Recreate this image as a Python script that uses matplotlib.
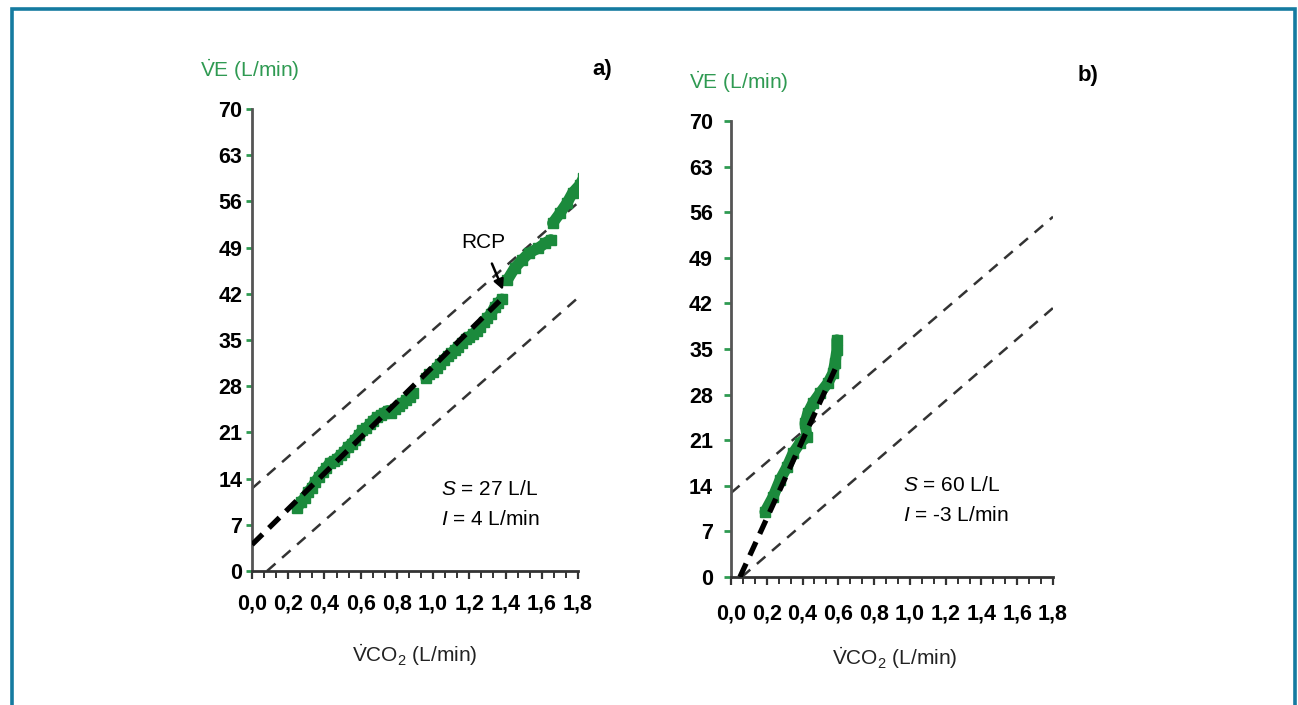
import numpy as np
import matplotlib.pyplot as plt
from matplotlib.patches import Rectangle
from matplotlib.ticker import FixedLocator

plt.rcParams['font.family'] = ['Liberation Sans', 'DejaVu Sans']
plt.rcParams['mathtext.fontset'] = 'custom'
plt.rcParams['mathtext.it'] = 'Liberation Sans:italic'
plt.rcParams['mathtext.rm'] = 'Liberation Sans'

# ---- data ----
# panel a) green measurements, runs of points
a_x1 = [0.25, 0.27, 0.29, 0.31, 0.33, 0.35, 0.37, 0.39, 0.41, 0.43, 0.45, 0.47, 0.49,
        0.51, 0.53, 0.55, 0.57, 0.59, 0.61, 0.63, 0.65, 0.67, 0.69, 0.71, 0.73, 0.75,
        0.77, 0.79, 0.81, 0.83, 0.85, 0.87, 0.89]
a_y1 = [9.5, 10.5, 11.0, 12.0, 12.6, 13.5, 14.3, 15.0, 15.6, 16.4, 16.6, 17.0, 17.6,
        18.0, 18.8, 19.3, 19.9, 20.6, 21.3, 21.6, 22.2, 22.8, 23.3, 23.6, 24.0, 24.3,
        23.9, 24.6, 25.0, 25.4, 25.9, 26.4, 27.0]
a_x2 = [0.96, 0.98, 1.00, 1.02, 1.04, 1.06, 1.08, 1.10, 1.12, 1.14, 1.16, 1.18, 1.20,
        1.22, 1.24, 1.26, 1.28, 1.30, 1.32, 1.34, 1.36, 1.38]
a_y2 = [29.2, 29.8, 30.2, 30.8, 31.4, 32.0, 32.6, 33.0, 33.5, 34.0, 34.6, 35.1, 35.5,
        35.9, 36.4, 37.0, 37.8, 38.4, 39.0, 40.0, 40.6, 41.2]
a_x3 = [1.41, 1.45, 1.49, 1.53, 1.58, 1.62, 1.65]
a_y3 = [44.1, 45.9, 47.1, 48.2, 48.9, 49.7, 50.2]
a_x4 = [1.66, 1.70, 1.74, 1.77, 1.81, 1.83]
a_y4 = [52.7, 54.2, 55.8, 57.3, 58.5, 59.5]

# panel b) green measurements
b_x = [0.19, 0.235, 0.274, 0.313, 0.347, 0.386, 0.425, 0.414, 0.43, 0.458, 0.497,
       0.542, 0.570, 0.581, 0.592, 0.592]
b_y = [10.0, 12.3, 14.9, 16.9, 19.0, 20.6, 21.5, 23.6, 25.2, 26.7, 28.2, 29.8, 31.3,
       32.8, 34.8, 36.4]

# regression lines (slope S, intercept I, x range)
a_S, a_I, a_xr = 27, 4, [0.0, 1.37]
b_S, b_I, b_xr = 60, -3, [0.05, 0.60]

# grey reference lines (end points)
ref_upper_x, ref_upper_y = [0.0, 1.8], [12.5, 55.8]
ref_lower_x, ref_lower_y = [0.083, 1.8], [0.0, 41.4]
refb_upper_x, refb_upper_y = [0.0, 1.8], [12.9, 55.3]
refb_lower_x, refb_lower_y = [0.06, 1.8], [0.0, 41.3]

yticks = [0, 7, 14, 21, 28, 35, 42, 49, 56, 63, 70]
xticks = [0.0, 0.2, 0.4, 0.6, 0.8, 1.0, 1.2, 1.4, 1.6, 1.8]
xlabels = ['0,0', '0,2', '0,4', '0,6', '0,8', '1,0', '1,2', '1,4', '1,6', '1,8']

green = '#1b8a3c'
label_green = '#2f9a52'
W, H = 1298, 705

fig = plt.figure(figsize=(W / 100, H / 100), dpi=100)
fig.patch.set_facecolor('white')

# border
fig.add_artist(Rectangle((11.5 / W, -0.02), (1294.5 - 11.5) / W, 1.02 - 9 / H,
                         transform=fig.transFigure, fill=False,
                         edgecolor='#157ba0', linewidth=2.6))

ax_a = fig.add_axes([252 / W, 1 - 571 / H, 326 / W, 462 / H])
ax_b = fig.add_axes([731 / W, 1 - 577 / H, 322 / W, 456 / H])


def style(ax):
    ax.set_xlim(0, 1.8)
    ax.set_ylim(0, 70)
    for s in ['top', 'right']:
        ax.spines[s].set_visible(False)
    ax.spines['left'].set_color('#555555')
    ax.spines['left'].set_linewidth(2)
    ax.spines['bottom'].set_color('#333333')
    ax.spines['bottom'].set_linewidth(2)
    ax.set_yticks(yticks)
    ax.set_yticklabels([str(v) for v in yticks], fontsize=15.5, fontweight='bold')
    ax.set_xticks(xticks)
    ax.set_xticklabels(xlabels, fontsize=15.5, fontweight='bold')
    ax.xaxis.set_minor_locator(FixedLocator(np.linspace(0, 1.8, 28)))
    ax.tick_params(axis='y', direction='out', length=4, width=2, color=label_green, pad=3)
    ax.tick_params(axis='x', which='major', direction='out', length=6, width=1.6,
                   color='#333333', pad=10)
    ax.tick_params(axis='x', which='minor', direction='out', length=5, width=1.4,
                   color='#333333')
    ax.set_facecolor('none')


style(ax_a)
style(ax_b)
ax_b.tick_params(axis='y', length=5, pad=8)
ax_b.tick_params(axis='x', which='major', pad=13)

narrow = ['Liberation Sans Narrow', 'Liberation Sans']
grey_dash = dict(color='#333333', lw=1.8, dashes=(4.5, 3.5), zorder=2)
black_dash = dict(color='black', lw=3.8, dashes=(2.8, 1.7), zorder=4)
mk = dict(color=green, lw=8, marker='s', ms=7, solid_capstyle='round', zorder=3)

# panel a
ax_a.plot(ref_upper_x, ref_upper_y, **grey_dash)
ax_a.plot(ref_lower_x, ref_lower_y, **grey_dash)
ax_a.plot(a_x1, a_y1, **mk)
ax_a.plot(a_x2, a_y2, **mk)
ax_a.plot(a_x3, a_y3, **mk)
ax_a.plot(a_x4, a_y4, **mk)
xa = np.array(a_xr)
ax_a.plot(xa, a_S * xa + a_I, **black_dash)
ax_a.annotate('RCP', xy=(1.386, 42.6), xytext=(1.275, 49.8), ha='center', va='center',
              fontsize=15, arrowprops=dict(arrowstyle='-|>', color='black', lw=1.8,
                                           shrinkA=7, shrinkB=0))
ax_a.text(1.044, 12.3, '$S$ = 27 L/L', fontsize=15, va='center', ha='left')
ax_a.text(1.044, 7.8, '$I$ = 4 L/min', fontsize=15, va='center', ha='left')

# panel b
ax_b.plot(refb_upper_x, refb_upper_y, **grey_dash)
ax_b.plot(refb_lower_x, refb_lower_y, **grey_dash)
ax_b.plot(b_x, b_y, **mk)
xb = np.array(b_xr)
ax_b.plot(xb, b_S * xb + b_I, **black_dash)
ax_b.text(0.96, 14.1, '$S$ = 60 L/L', fontsize=15, va='center', ha='left')
ax_b.text(0.96, 9.5, '$I$ = -3 L/min', fontsize=15, va='center', ha='left')


# titles / labels in figure pixels
def ftxt(x, y, s, **kw):
    fig.text(x / W, 1 - y / H, s, ha='center', va='center', **kw)


ve = r'$\dot{\mathrm{V}}$E (L/min)'
vco2 = r'$\dot{\mathrm{V}}$CO$_2$ (L/min)'
ftxt(250, 70, ve, color=label_green, fontsize=15, family=narrow)
ftxt(739, 82, ve, color=label_green, fontsize=15, family=narrow)
ftxt(415, 655, vco2, color='#222222', fontsize=15, family=narrow)
ftxt(895, 658, vco2, color='#222222', fontsize=15, family=narrow)
ftxt(602, 70, 'a)', fontsize=16, fontweight='bold')
ftxt(1088, 75, 'b)', fontsize=16, fontweight='bold')

fig.savefig('out.png', dpi=100)
